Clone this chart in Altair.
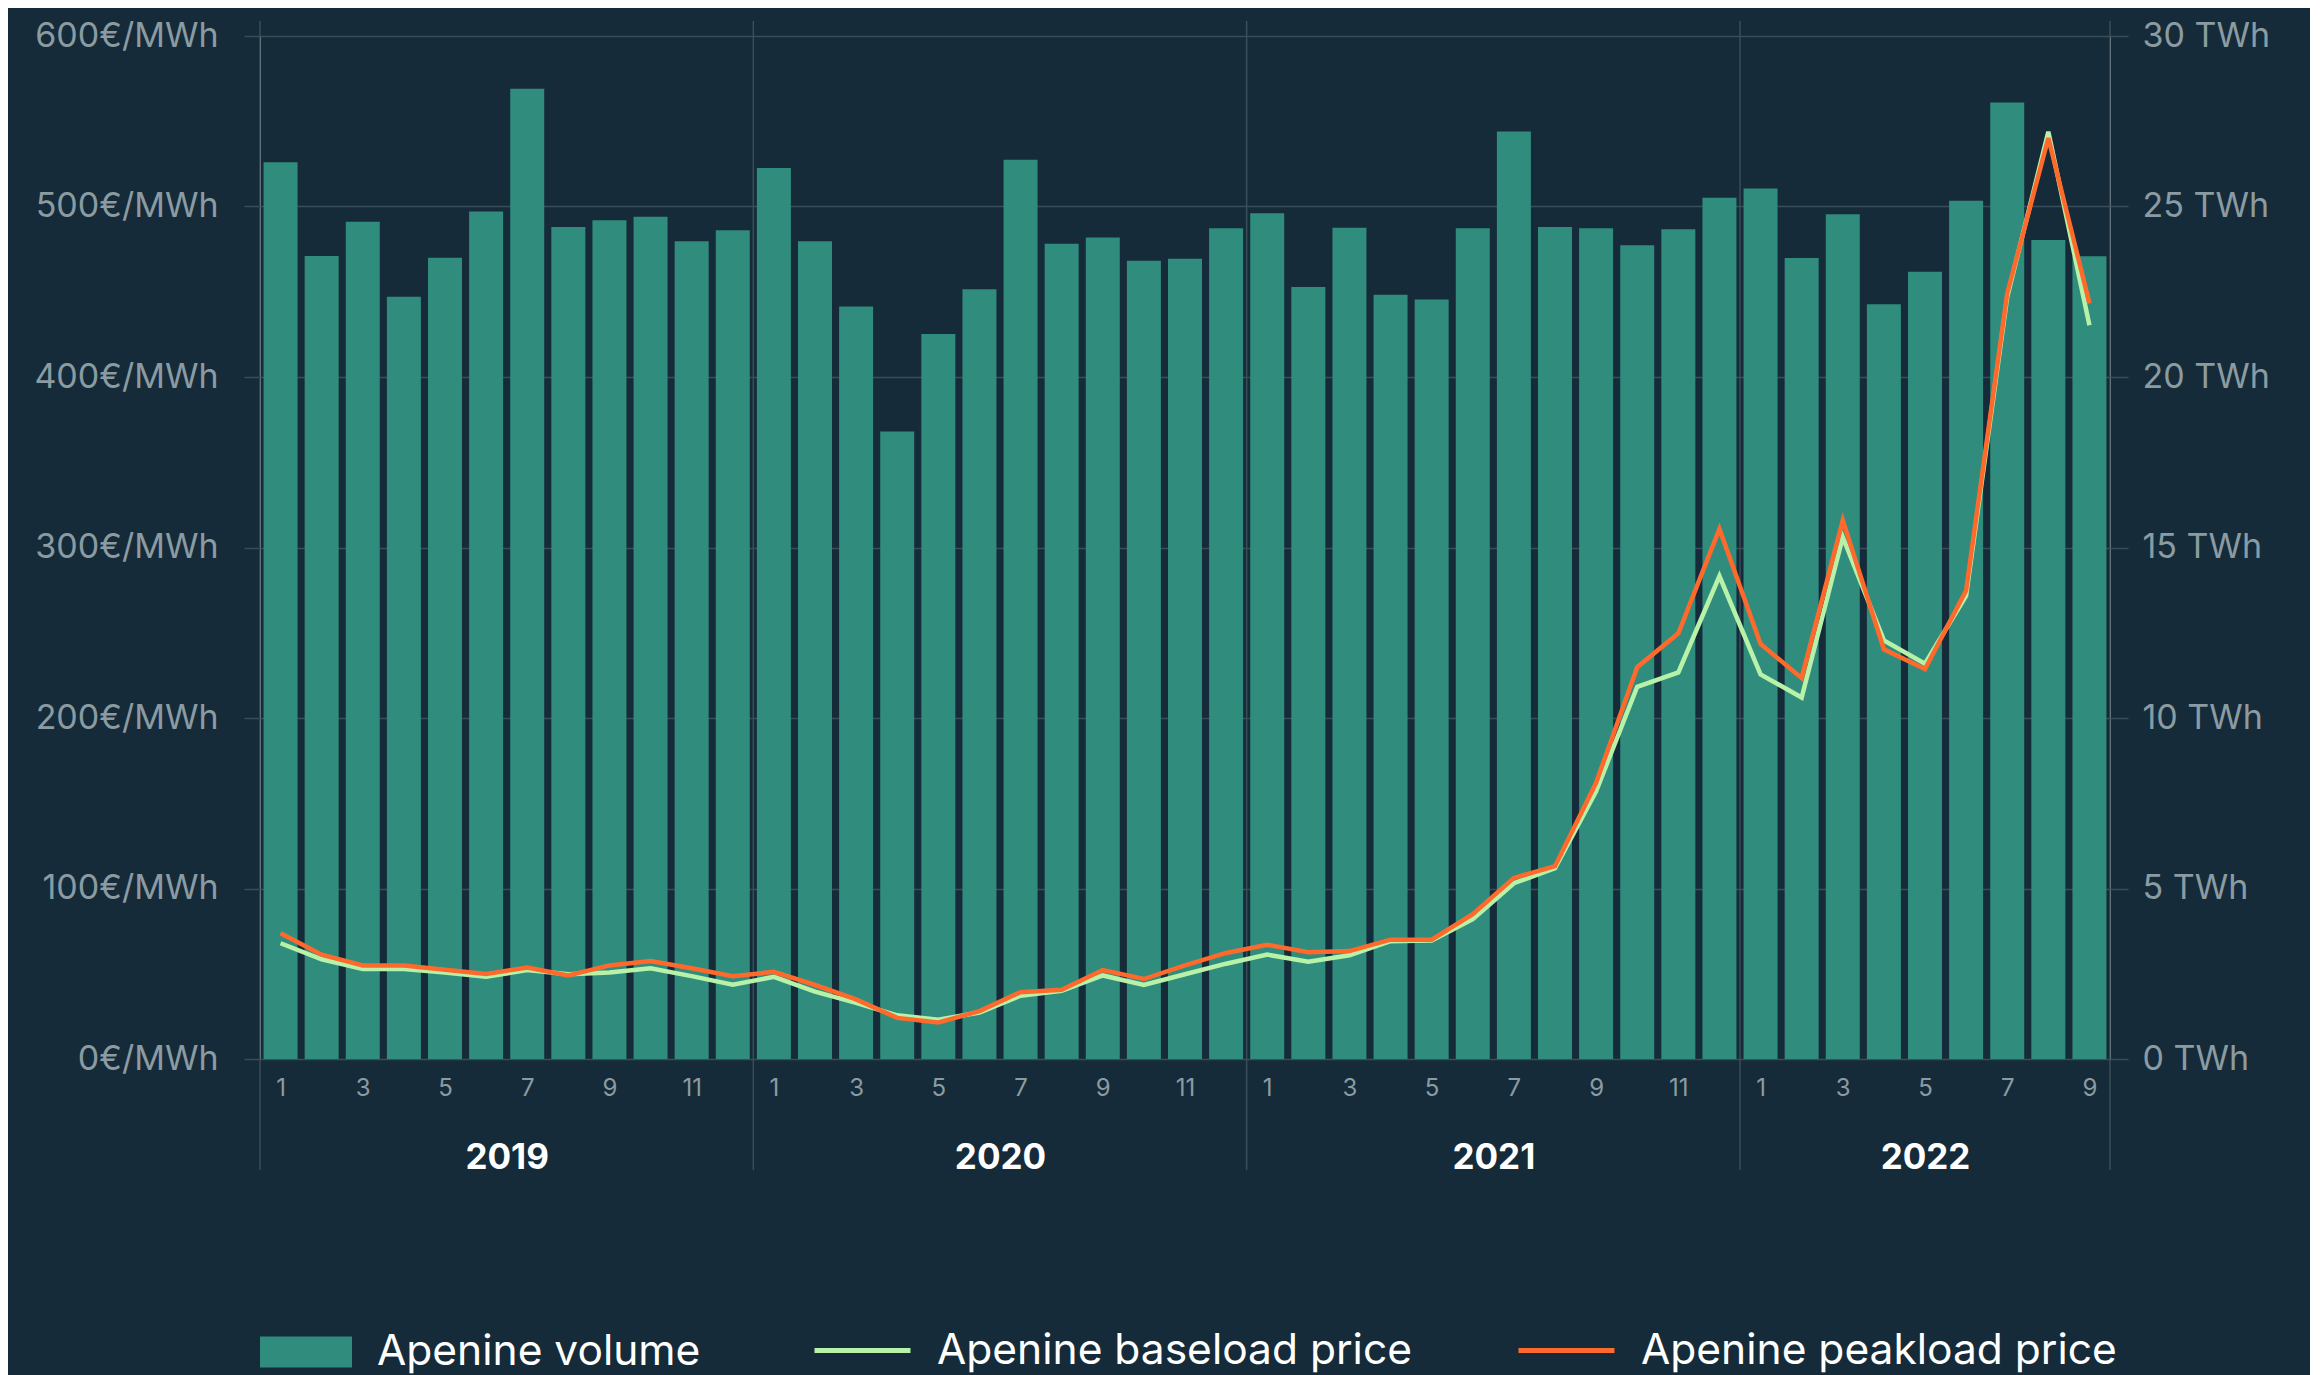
import altair as alt
import pandas as pd

# ---- data (Jan 2019 .. Sep 2022) ----
years = [2019, 2020, 2021, 2022]
month_keys = [f"{y}-{m:02d}" for y in years for m in range(1, 13)][:45]

volume_twh = [26.3, 23.55, 24.55, 22.35, 23.5, 24.85, 28.45, 24.4, 24.6, 24.7, 23.98, 24.3,
              26.13, 23.98, 22.07, 18.4, 21.26, 22.57, 26.37, 23.91, 24.09, 23.41, 23.47, 24.36,
              24.8, 22.64, 24.38, 22.41, 22.27, 24.36, 27.2, 24.4, 24.36, 23.86, 24.33, 25.26,
              25.53, 23.49, 24.77, 22.13, 23.09, 25.17, 28.05, 24.02, 23.54]

baseload_price = [67.9, 58.5, 52.8, 52.8, 50.7, 48.2, 52.2, 49.7, 50.7, 53.2, 48.6, 43.6,
                  48.2, 39.5, 32.9, 25.6, 23.0, 27.3, 37.1, 40.0, 49.0, 43.4, 49.7, 55.9,
                  61.2, 57.0, 60.8, 69.1, 69.5, 82.0, 103.1, 111.9, 157.0, 218.3, 226.7, 283.2,
                  225.6, 212.0, 306.0, 245.5, 231.9, 271.7, 447.0, 543.8, 430.3]

peakload_price = [73.7, 61.2, 54.9, 54.9, 52.4, 49.9, 53.6, 49.0, 54.9, 57.4, 53.2, 48.6,
                  51.1, 43.4, 35.0, 24.1, 21.4, 28.1, 39.2, 40.6, 52.2, 46.9, 54.9, 62.2,
                  67.0, 62.6, 63.3, 70.0, 70.0, 85.0, 106.2, 113.1, 162.0, 229.8, 249.7, 310.9,
                  243.4, 223.5, 316.0, 240.3, 228.7, 274.8, 449.0, 540.2, 443.2]

year_bounds = [0, 12, 24, 36, 45]
year_label_pos = [6, 18, 30, 40.5]
price_ticks = [0, 100, 200, 300, 400, 500, 600]
volume_ticks = [0, 5, 10, 15, 20, 25, 30]

SERIES_VOL = "Apenine volume"
SERIES_BASE = "Apenine baseload price"
SERIES_PEAK = "Apenine peakload price"

# ---- style ----
BG = "#152b39"
TEAL = "#308d7d"
GREEN = "#b8f2a8"
ORANGE = "#ff6a2c"
GRID = "#3a4e59"
LABEL = "#8b9ba2"
FONT = "Inter"

W, H = 1850, 1023

df = pd.DataFrame({
    "idx": list(range(len(month_keys))),
    "month": month_keys,
    "volume": volume_twh,
    "baseload": baseload_price,
    "peakload": peakload_price,
})

xscale = alt.Scale(domain=[0, 45], nice=False, zero=False)

month_values = [i + 0.5 for i in range(45) if (i % 12) % 2 == 0]

month_axis = alt.Axis(
    values=month_values,
    labelExpr="toString(floor(datum.value) % 12 + 1)",
    ticks=False, domain=False, grid=False, orient="bottom",
    labelFontSize=24, labelColor=LABEL, labelPadding=17, title=None,
    labelFont=FONT,
)

year_axis = alt.Axis(
    values=year_label_pos,
    labelExpr="toString(2019 + floor(datum.value / 12))",
    ticks=False, domain=False, grid=False, orient="bottom",
    labelFontSize=35, labelFontWeight="bold", labelColor="#ffffff",
    labelPadding=81, title=None, labelFont=FONT,
)

left_axis = alt.Axis(
    values=price_ticks, labelExpr="datum.value + '€/MWh'",
    grid=True, gridColor=GRID, gridWidth=1.5,
    ticks=True, tickColor=GRID, tickSize=16, tickWidth=1.5,
    domain=False, labelFontSize=34, labelColor=LABEL, labelPadding=26,
    labelLimit=400, title=None, orient="left", labelFont=FONT,
)

right_axis = alt.Axis(
    values=volume_ticks, labelExpr="datum.value + ' TWh'",
    grid=False, ticks=True, tickColor=GRID, tickSize=18, tickWidth=1.5,
    domain=False, labelFontSize=34, labelColor=LABEL, labelPadding=14,
    labelLimit=400, title=None, orient="right", labelFont=FONT,
)

rules = alt.Chart(pd.DataFrame({"b": year_bounds})).mark_rule(
    color=GRID, strokeWidth=1.5
).encode(
    x=alt.X("b:Q", scale=xscale, axis=None),
    y=alt.value(-15),
    y2=alt.value(H + 111),
)

bars = alt.Chart(df).transform_calculate(
    x0="datum.idx + 0.0865",
    x1="datum.idx + 0.9135",
    series=f"'{SERIES_VOL}'",
).mark_rect().encode(
    x=alt.X("x0:Q", scale=xscale, axis=month_axis),
    x2="x1:Q",
    y=alt.Y("volume:Q", scale=alt.Scale(domain=[0, 30], nice=False, zero=True), axis=right_axis),
    y2=alt.datum(0),
    fill=alt.Fill(
        "series:N",
        scale=alt.Scale(domain=[SERIES_VOL], range=[TEAL]),
        legend=alt.Legend(
            orient="none", legendX=0, legendY=1270, title=None,
            symbolType="M-1,-0.337H1V0.337H-1Z", symbolSize=8464,
            symbolStrokeWidth=0, symbolOpacity=1,
            labelFontSize=42.5, labelColor="#ffffff", labelOffset=25,
            labelLimit=800, labelFont=FONT, padding=0,
        ),
    ),
)

lines = alt.Chart(df).transform_fold(
    ["baseload", "peakload"], as_=["key", "price"]
).transform_calculate(
    xc="datum.idx + 0.5",
    series=f"datum.key == 'baseload' ? '{SERIES_BASE}' : '{SERIES_PEAK}'",
).mark_line(strokeWidth=4.5).encode(
    x=alt.X("xc:Q", scale=xscale, axis=year_axis),
    y=alt.Y("price:Q", scale=alt.Scale(domain=[0, 600], nice=False), axis=left_axis),
    stroke=alt.Stroke(
        "series:N",
        scale=alt.Scale(domain=[SERIES_BASE, SERIES_PEAK], range=[GREEN, ORANGE]),
        legend=alt.Legend(
            orient="none", legendX=552, legendY=1264, title=None,
            direction="horizontal", symbolType="stroke", symbolSize=9216,
            symbolStrokeWidth=5, columnPadding=96,
            labelFontSize=42.5, labelColor="#ffffff", labelOffset=24,
            labelLimit=800, labelFont=FONT, padding=0,
        ),
    ),
)

chart = alt.layer(rules, bars, lines).resolve_scale(
    y="independent"
).resolve_axis(
    x="independent"
).properties(
    width=W, height=H,
    padding={"left": 252, "top": 28, "right": 200, "bottom": 316},
    autosize=alt.AutoSizeParams(type="none"),
    background=BG,
).configure_view(
    stroke="transparent"
).configure(
    font=FONT
)

chart.save("out.html", embed_options={"renderer": "svg", "actions": False})
